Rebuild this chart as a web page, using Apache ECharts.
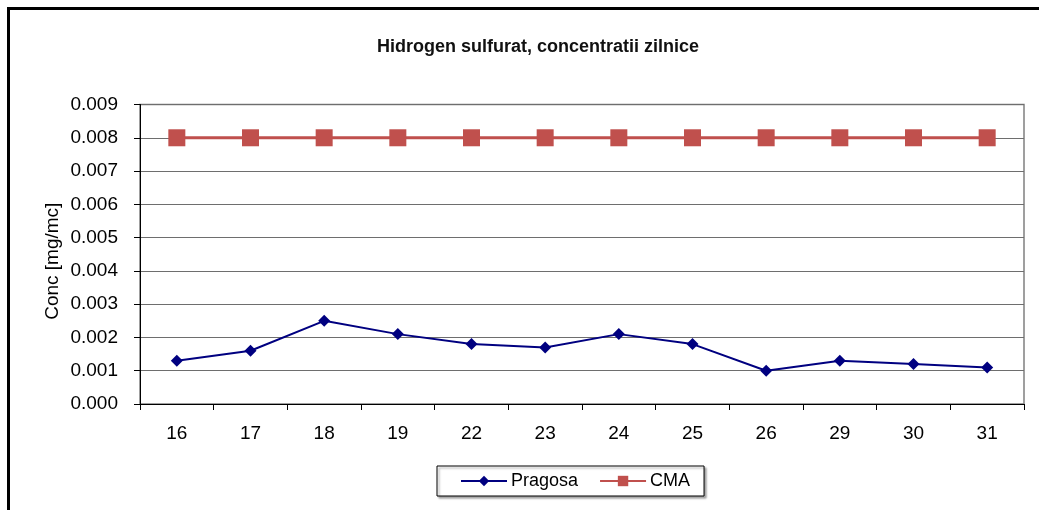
<!DOCTYPE html>
<html><head><meta charset="utf-8">
<script src="https://cdn.jsdelivr.net/npm/echarts@6/dist/echarts.min.js"></script>
<style>html,body{margin:0;padding:0;background:#fff}#c{width:1039px;height:510px}</style>
</head><body><div id="c"></div>
<script>
const categories = ['16','17','18','19','22','23','24','25','26','29','30','31'];
const pragosa = [0.0013,0.0016,0.0025,0.0021,0.0018,0.0017,0.0021,0.0018,0.0010,0.0013,0.0012,0.0011];
const cma = [0.008,0.008,0.008,0.008,0.008,0.008,0.008,0.008,0.008,0.008,0.008,0.008];
const titleText = 'Hidrogen sulfurat, concentratii zilnice';
const yName = 'Conc [mg/mc]';
const FONT = '"Liberation Sans", Arial, sans-serif';

const chart = echarts.init(document.getElementById('c'));
chart.setOption({
  backgroundColor: '#fff',
  animation: false,
  textStyle: { fontFamily: FONT },
  title: {
    text: titleText, left: 372, top: 33,
    textStyle: { fontFamily: FONT, fontSize: 18, fontWeight: 'bold', color: '#111' }
  },
  legend: {
    left: 437, top: 466,
    padding: [6, 14, 6, 23],
    itemGap: 21, itemWidth: 46, itemHeight: 13,
    borderColor: '#000', borderWidth: 1,
    shadowColor: 'rgba(0,0,0,0.35)', shadowOffsetX: 2, shadowOffsetY: 2, shadowBlur: 2,
    backgroundColor: '#fff',
    textStyle: { fontFamily: FONT, fontSize: 18, color: '#000', padding: [0,0,0,-1] },
    data: ['Pragosa', 'CMA']
  },
  grid: {
    left: 140, right: 15, top: 104.5, bottom: 106,
    show: true, borderColor: '#808080', borderWidth: 1.5, backgroundColor: '#fff'
  },
  xAxis: {
    type: 'category', data: categories, boundaryGap: true,
    axisLine: { lineStyle: { color: '#000', width: 1 } },
    axisTick: { show: true, length: 6, lineStyle: { color: '#000' } },
    axisLabel: { fontFamily: FONT, fontSize: 19, color: '#000', margin: 20 },
    splitLine: { show: false }
  },
  yAxis: {
    type: 'value', min: 0, max: 0.009, interval: 0.001,
    name: yName, nameLocation: 'middle', nameGap: 78, nameRotate: 90,
    nameMoveOverlap: false,
    nameTextStyle: { fontFamily: FONT, fontSize: 19, color: '#000', padding: [0, 14, 0, 0] },
    axisLine: { show: true, lineStyle: { color: '#000', width: 1 } },
    axisTick: { show: true, length: 6, lineStyle: { color: '#000' } },
    axisLabel: { fontFamily: FONT, fontSize: 19, color: '#000', margin: 22,
      formatter: v => v.toFixed(3) },
    splitLine: { show: true, lineStyle: { color: '#6e6e6e', width: 1 } }
  },
  series: [
    { name: 'Pragosa', type: 'line', data: pragosa,
      symbol: 'diamond', symbolSize: 12,
      itemStyle: { color: '#000080' }, lineStyle: { color: '#000080', width: 2 } },
    { name: 'CMA', type: 'line', data: cma,
      symbol: 'rect', symbolSize: 17,
      itemStyle: { color: '#C0504D' }, lineStyle: { color: '#C0504D', width: 3 } }
  ],
  graphic: [
    { type: 'line', shape: { x1: 7, y1: 8.5, x2: 1039, y2: 8.5 }, style: { stroke: '#000', lineWidth: 3 } },
    { type: 'line', shape: { x1: 8.5, y1: 7, x2: 8.5, y2: 510 }, style: { stroke: '#000', lineWidth: 3 } }
  ]
});
</script></body></html>
